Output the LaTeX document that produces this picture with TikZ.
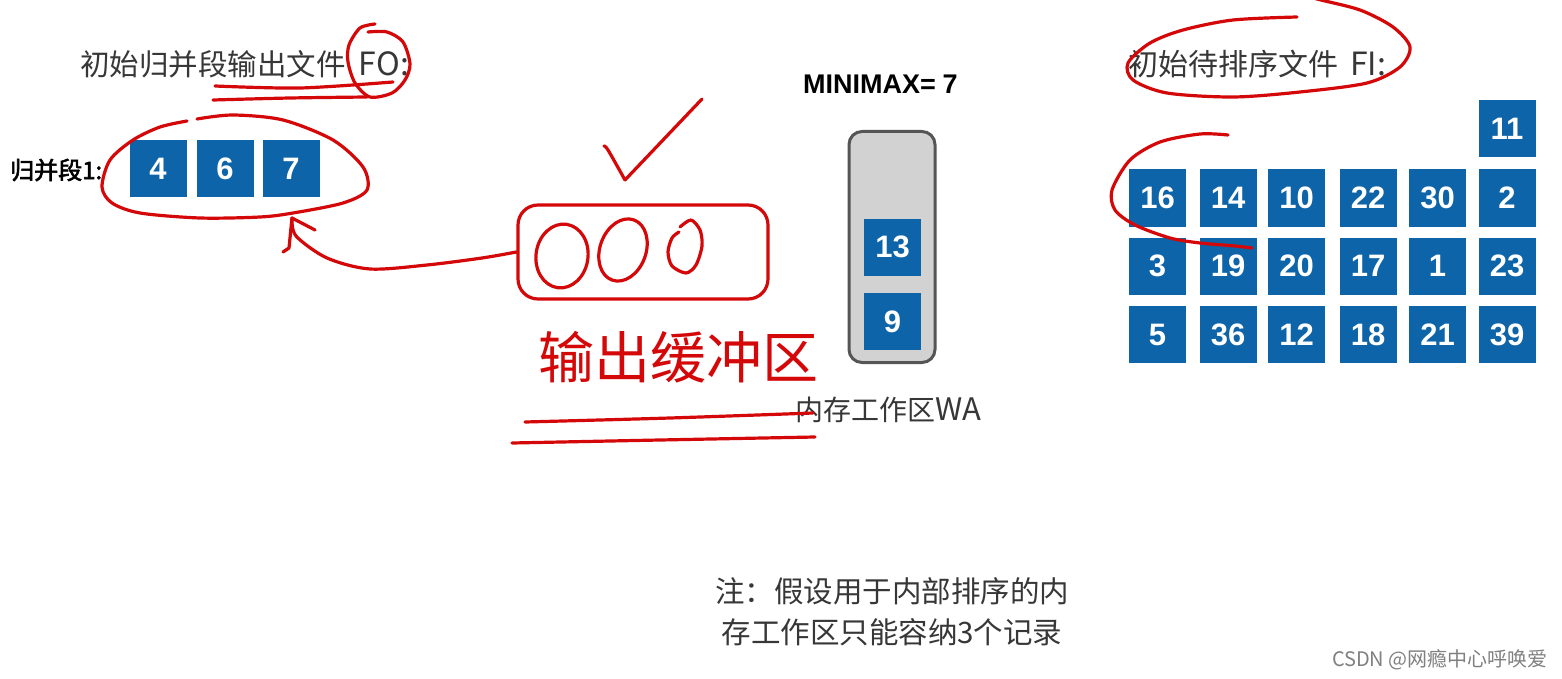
\documentclass[tikz,border=0pt]{standalone}
\usepackage{fontspec}
\setmainfont{Noto Sans CJK SC}
\newfontfamily\cjk{Noto Sans CJK SC}
\newfontfamily\cjkbf[FakeBold=2.5]{Noto Sans CJK SC}
\newfontfamily\numf{Liberation Sans}
\definecolor{boxblue}{RGB}{14,100,168}
\definecolor{penred}{RGB}{212,8,8}
\definecolor{txtgray}{RGB}{55,55,55}
\definecolor{wagray}{RGB}{210,210,210}
\definecolor{waedge}{RGB}{85,85,85}
\tikzset{
  rec/.style={fill=boxblue, minimum size=57pt, inner sep=0pt, text=white,
    font=\numf\bfseries\fontsize{31}{36}\selectfont},
  lbl/.style={inner sep=0pt, text=txtgray},
  redpen/.style={draw=penred, line width=3.2pt, line cap=round, line join=round},
}
\begin{document}
\begin{tikzpicture}[x=1pt,y=-1pt]
\useasboundingbox[fill=white] (0,0) rectangle (1562,679);

% ---------- left: output file FO ----------
\node[lbl, anchor=west, font=\cjk\fontsize{29.5}{34}\selectfont] (fotitle) at (80,64) {初始归并段输出文件\hspace{0.45em}{\fontsize{32}{34}\selectfont FO:}};
\node[inner sep=0pt, anchor=west, text=black, font=\cjkbf\fontsize{24}{28}\selectfont] (seglbl) at (10,170) {归并段1:};
\node[rec] (s4) at (158,168.5) {4};
\node[rec] (s6) at (225,168.5) {6};
\node[rec] (s7) at (291,168.5) {7};

% ---------- middle: MINIMAX and working area ----------
\node[inner sep=0pt, anchor=west, text=black, font=\numf\bfseries\fontsize{27}{30}\selectfont] (minimax) at (803,84) {MINIMAX=\hspace{0.25em}7};
\node[draw=waedge, fill=wagray, line width=3pt, rounded corners=13pt,
      minimum width=86pt, minimum height=231pt, inner sep=0pt] (wa) at (892,247) {};
\node[rec] (w13) at (892.5,247) {13};
\node[rec] (w9) at (892.5,321.5) {9};
\node[lbl, anchor=west, font=\cjk\fontsize{28}{32}\selectfont] (walbl) at (795,410) {内存工作区{\fontsize{31}{32}\selectfont WA}};

% ---------- right: input file FI ----------
\node[lbl, anchor=west, font=\cjk\fontsize{30}{34}\selectfont] (fititle) at (1128,64) {初始待排序文件\hspace{0.4em}{\fontsize{32}{34}\selectfont FI:}};
\node[rec] (f11) at (1507,129) {11};
\node[rec] (f16) at (1157.5,198) {16};
\node[rec] (f14) at (1228,198) {14};
\node[rec] (f10) at (1296.5,198) {10};
\node[rec] (f22) at (1368,198) {22};
\node[rec] (f30) at (1437.5,198) {30};
\node[rec] (f2)  at (1507,198) {2};
\node[rec] (f3)  at (1157.5,266) {3};
\node[rec] (f19) at (1228,266) {19};
\node[rec] (f20) at (1296.5,266) {20};
\node[rec] (f17) at (1368,266) {17};
\node[rec] (f1)  at (1437.5,266) {1};
\node[rec] (f23) at (1507,266) {23};
\node[rec] (f5)  at (1157.5,334.5) {5};
\node[rec] (f36) at (1228,334.5) {36};
\node[rec] (f12) at (1296.5,334.5) {12};
\node[rec] (f18) at (1368,334.5) {18};
\node[rec] (f21) at (1437.5,334.5) {21};
\node[rec] (f39) at (1507,334.5) {39};

% ---------- note and watermark ----------
\node[lbl, align=center, font=\cjk\fontsize{29.5}{41}\selectfont] (note) at (892,612) {注：假设用于内部排序的内\\存工作区只能容纳3个记录};
\node[inner sep=0pt, anchor=east, text=black!50, font=\cjk\fontsize{20}{24}\selectfont] (wm) at (1548,660) {CSDN @网瘾中心呼唤爱};

% ---------- red handwriting ----------
% circle around FO
\draw[redpen] plot[smooth] coordinates {(375,24) (360,28) (349,45) (348,62) (355,83) (370,97) (392,93) (405,80) (410,64) (403,42) (387,32) (368,32)};
% underlines under 输出文件 FO
\draw[redpen] plot[smooth] coordinates {(215,86) (300,88) (393,82)};
\draw[redpen] plot[smooth] coordinates {(213,100) (290,98) (367,97)};
% ellipse around segment 1
\draw[redpen] plot[smooth] coordinates {(197,119) (233,115) (283,120) (333,140) (363,167) (367,190) (343,203) (293,213) (260,217) (200,218) (140,213) (112,203) (102,187) (110,160) (133,140) (160,127) (187,121)};
% check mark
\draw[redpen] plot[smooth] coordinates {(604,146) (608,150) (625,180)};
\draw[redpen] (625,180) -- (702,99);
% output buffer
\node[draw=penred, line width=3.2pt, rounded corners=20pt, minimum width=250pt, minimum height=94pt, inner sep=0pt] (buf) at (643,252) {};
\draw[redpen, rotate around={-8:(562,256)}] (562,256) ellipse [x radius=26pt, y radius=32pt];
\draw[redpen, rotate around={-20:(623,250)}] (623,250) ellipse [x radius=23pt, y radius=32pt];
\draw[redpen] plot[smooth] coordinates {(680,227) (691,220) (700,230) (702,246) (696,265) (686,273) (672,266) (668,252) (672,238) (679,232)};
% arrow from buffer to segment
\coordinate (tip) at (292,218);
\draw[redpen] plot[smooth] coordinates {(buf.west) (482,258) (427,265) (370,269) (327,258) (296,236) (tip)};
\draw[redpen] (tip) -- (315,230);
\draw[redpen] (tip) -- (289,248) -- (283,252);
% handwritten label
\node[inner sep=0pt, text=penred, font=\cjk\fontsize{56}{60}\selectfont] (hw) at (678,357) {输出缓冲区};
\draw[redpen] plot[smooth] coordinates {(525,422) (670,418) (813,413)};
\draw[redpen] plot[smooth] coordinates {(512,443) (660,440) (815,437)};
% loop around FI title
\draw[redpen] plot[smooth] coordinates {(1297,17) (1233,20) (1183,30) (1150,43) (1128,63) (1133,80) (1167,93) (1233,97) (1300,92) (1367,83) (1400,67) (1410,47) (1393,27) (1360,10) (1317,-1) (1295,-8)};
% arc around 16
\draw[redpen] plot[smooth] coordinates {(1228,135) (1200,134) (1160,142) (1130,160) (1112,190) (1115,210) (1135,225) (1170,238) (1200,243) (1235,246) (1252,248)};
\end{tikzpicture}
\end{document}
